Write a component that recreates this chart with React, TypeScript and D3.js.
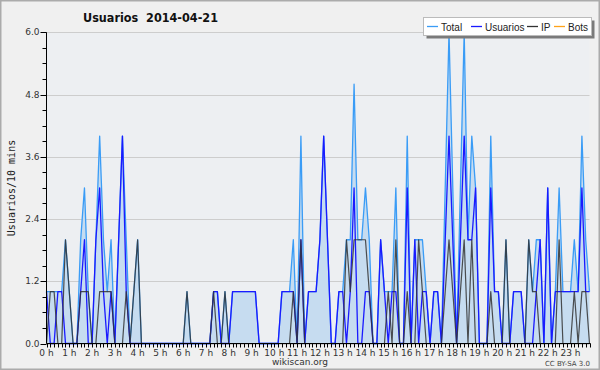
import React from "react";
import * as d3 from "d3";

const hourLabels = d3.range(24).map((h) => `${h} h`);
const yTicks = [0, 1.2, 2.4, 3.6, 4.8, 6.0];

const usuarios = [
  1,0,0,1,1,0,0,0,0,1,2,0,0,2,3,1,0,1,0,2,4,1,0,0,0,0,0,0,0,0,
  0,0,0,0,0,0,0,0,0,0,0,0,0,0,1,1,0,0,0,1,1,1,1,1,1,1,0,0,0,0,
  0,0,1,1,1,1,0,2,0,1,1,1,2,4,2,0,0,1,1,0,1,3,0,0,1,1,0,0,2,1,
  0,1,1,0,0,3,0,2,0,1,1,0,1,1,0,2,4,2,0,2,4,2,2,3,0,0,0,3,1,1,
  0,0,0,1,1,1,0,0,0,1,2,0,3,0,1,1,1,1,1,1,1,3,1,1
];
const ip = [
  0,1,1,0,0,2,1,0,0,1,1,1,0,0,1,1,1,1,0,0,0,1,0,1,2,0,0,0,0,0,
  0,0,0,0,0,0,0,1,0,0,0,0,0,0,1,0,0,1,0,0,0,0,0,0,0,0,0,0,0,0,
  0,0,0,0,0,1,0,2,0,0,0,0,0,0,0,0,0,0,0,2,1,2,2,2,2,1,0,0,0,0,
  1,0,2,0,0,1,0,0,2,1,0,0,0,0,0,1,2,1,0,1,2,0,2,0,0,0,0,1,0,0,
  0,2,0,0,0,0,0,2,1,1,0,0,0,0,0,2,0,0,0,1,0,1,1,0
];
const total = [
  1,1,1,1,1,2,1,0,0,2,3,1,0,2,4,2,1,2,0,2,4,2,0,1,2,0,0,0,0,0,
  0,0,0,0,0,0,0,1,0,0,0,0,0,0,1,1,0,1,0,1,1,1,1,1,1,1,0,0,0,0,
  0,0,1,1,1,2,0,4,0,1,1,1,2,4,2,0,0,1,1,2,2,5,2,2,3,2,0,0,2,1,
  1,1,3,0,0,4,0,2,2,2,1,0,1,1,0,3,6,3,0,3,6,2,4,3,0,0,0,4,1,1,
  0,2,0,1,1,1,0,2,1,2,2,0,3,0,1,3,1,1,1,2,1,4,2,1
];
const bots = total.map(() => 0);

const legendItems = [
  { name: "Total", color: "#3a9cf6" },
  { name: "Usuarios", color: "#1a1aff" },
  { name: "IP", color: "#333333" },
  { name: "Bots", color: "#ffa31a" },
];
const legendLineX = [427, 471, 527, 554];

export default function App() {
  const W = 600, H = 370;
  const x0 = 46.5, x1 = 589.5, yTop = 32.3, yBot = 343.5;
  const x = d3.scaleLinear().domain([0, total.length - 1]).range([x0, x1]);
  const y = d3.scaleLinear().domain([0, 6]).range([yBot, yTop]);
  const line = d3.line<number>().x((_, i) => x(i)).y((d) => y(d));
  const area = d3.area<number>().x((_, i) => x(i)).y0(y(0)).y1((d) => y(d));
  const minorY = d3.range(0, 6.01, 0.3);
  const font = "'DejaVu Sans', sans-serif";

  return (
    <div style={{ position: "fixed", left: 0, top: 0 }}>
      <svg width={W} height={H} style={{ display: "block" }}>
        <rect x={0} y={0} width={W} height={H} fill="#f0f0f0" />
        <rect x={0.75} y={0.75} width={W - 1.5} height={H - 1.5} fill="none" stroke="#ababab" strokeWidth={1.5} />
        <rect x={x0} y={yTop} width={x1 - x0} height={yBot - yTop} fill="#edeff2" />
        {yTicks.map((t) => (
          <line key={t} x1={x0} x2={x1} y1={Math.round(y(t)) + 0.5} y2={Math.round(y(t)) + 0.5} stroke="#cdcdcd" strokeWidth={1} />
        ))}
        <path d={area(total) || ""} fill="#c6dcf0" />
        <path d={line(bots) || ""} fill="none" stroke="#ffa31a" strokeWidth={1.2} />
        <path d={line(total) || ""} fill="none" stroke="#3a9cf6" strokeWidth={1.3} strokeLinejoin="round" />
        <path d={line(usuarios) || ""} fill="none" stroke="#1a1aff" strokeWidth={1.3} strokeLinejoin="round" />
        <path d={line(ip) || ""} fill="none" stroke="#333333" strokeWidth={1.2} strokeLinejoin="round" strokeOpacity={0.85} />
        {/* axes */}
        <line x1={x0} x2={x0} y1={yTop} y2={yBot} stroke="#000" strokeWidth={1} />
        <line x1={x0} x2={x1 + 1} y1={yBot} y2={yBot} stroke="#000" strokeWidth={1} />
        {minorY.map((t, i) => (
          <line key={i} x1={i % 4 === 0 ? x0 - 6 : x0 - 4} x2={x0} y1={Math.round(y(t)) + 0.5} y2={Math.round(y(t)) + 0.5} stroke="#000" strokeWidth={1} />
        ))}
        {yTicks.map((t) => (
          <text key={t} x={x0 - 7} y={y(t) + 3} fontSize={9} fontFamily={font} textAnchor="end" fill="#333">
            {t.toFixed(1)}
          </text>
        ))}
        {total.map((_, i) => (
          <line key={i} x1={Math.round(x(i)) + 0.5} x2={Math.round(x(i)) + 0.5} y1={yBot} y2={yBot + 4} stroke="#000" strokeWidth={1} />
        ))}
        {hourLabels.map((lab, h) => (
          <text key={lab} x={x(h * 6)} y={yBot + 12} fontSize={9} fontFamily={font} textAnchor="middle" fill="#333">
            {lab}
          </text>
        ))}
        <text x={12} y={188} transform="rotate(-90 12 188)" fontSize={10} fontFamily="'DejaVu Sans Mono', monospace" textAnchor="middle" dy={3} fill="#222">
          Usuarios/10 mins
        </text>
        <text x={83} y={22} fontSize={13} fontWeight="bold" fontFamily={font} fill="#111" textLength={135} lengthAdjust="spacingAndGlyphs" style={{ whiteSpace: "pre" }}>
          Usuarios  2014-04-21
        </text>
        {/* legend */}
        <rect x={426.5} y={20.5} width={168} height={18} fill="#7a7a7a" />
        <rect x={423.5} y={17.5} width={168} height={18} fill="#fff" stroke="#bbb" strokeWidth={1} />
        {legendItems.map((it, i) => (
          <g key={it.name}>
            <line x1={legendLineX[i]} x2={legendLineX[i] + 11} y1={26.5} y2={26.5} stroke={it.color} strokeWidth={1.3} />
            <text x={legendLineX[i] + 14} y={30.5} fontSize={10} fontFamily="'Liberation Sans', Arial, sans-serif" fill="#222">{it.name}</text>
          </g>
        ))}
        <text x={300} y={365} fontSize={9} fontFamily={font} textAnchor="middle" fill="#333">wikiscan.org</text>
        <text x={590} y={366} fontSize={7} fontFamily={font} textAnchor="end" fill="#444">CC BY-SA 3.0</text>
      </svg>
    </div>
  );
}
